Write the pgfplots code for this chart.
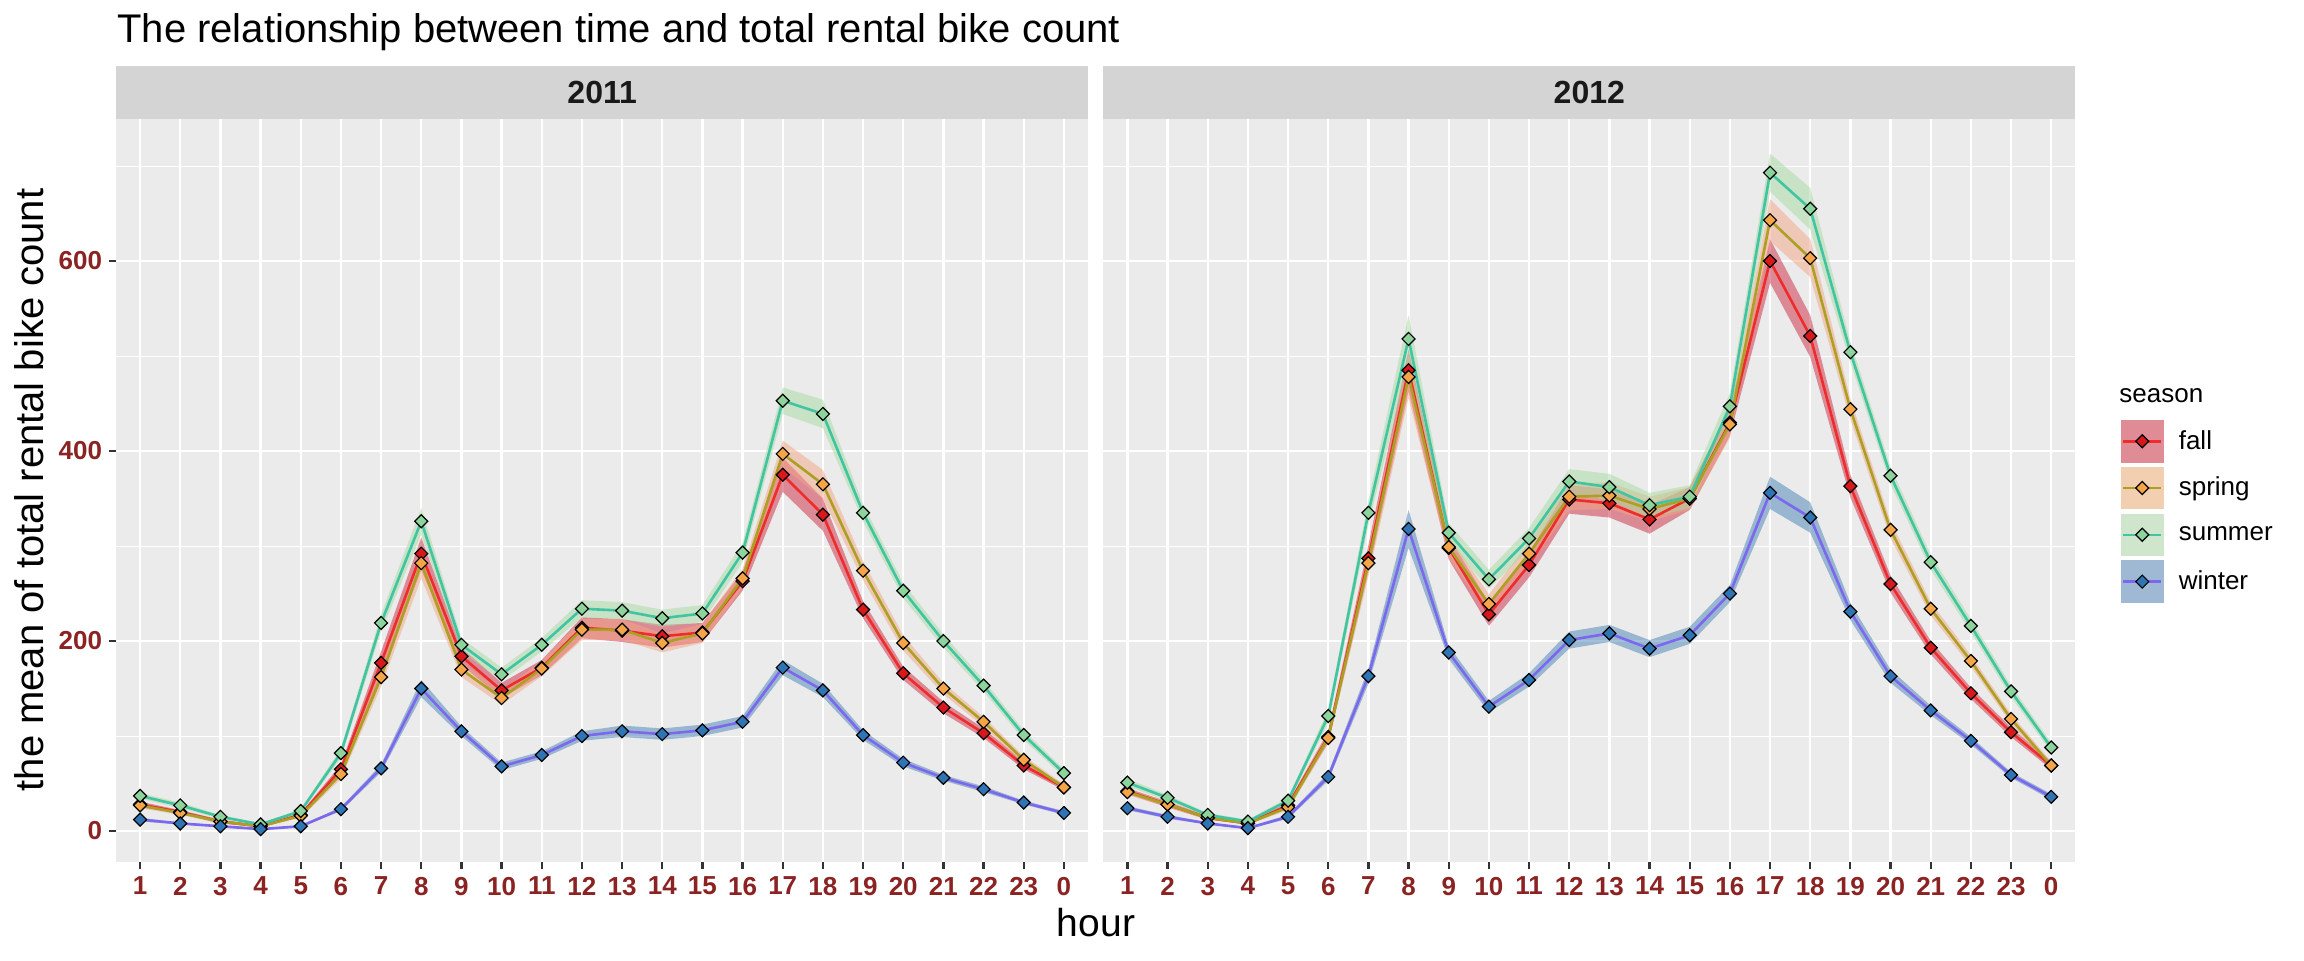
\documentclass[border=0pt]{standalone}
\usepackage{fontspec}
\setmainfont{Liberation Sans}
\usepackage{pgfplots}
\pgfplotsset{compat=1.18}
\usepackage{pgfplotstable}
\usepgfplotslibrary{fillbetween}

\definecolor{panelbg}{HTML}{EBEBEB}
\definecolor{stripbg}{HTML}{D4D4D4}
\definecolor{tickred}{HTML}{8B2323}
\definecolor{fallline}{HTML}{EE2C2C}
\definecolor{springline}{HTML}{ABA024}
\definecolor{summerline}{HTML}{40C4A2}
\definecolor{winterline}{HTML}{7B68EE}
\definecolor{fallpt}{HTML}{D7191C}
\definecolor{springpt}{HTML}{F5A547}
\definecolor{summerpt}{HTML}{8CD49C}
\definecolor{winterpt}{HTML}{2F75B5}
\definecolor{fallrib}{HTML}{CC2A40}
\definecolor{springrib}{HTML}{F4A582}
\definecolor{summerrib}{HTML}{A6DBA0}
\definecolor{winterrib}{HTML}{4682B4}
\definecolor{fallkey}{HTML}{DF8C96}
\definecolor{springkey}{HTML}{F1CFB0}
\definecolor{summerkey}{HTML}{CFE5CC}
\definecolor{winterkey}{HTML}{9FB9D4}

\newcommand{\legfont}{\fontsize{13}{15}\selectfont}

\pgfdeclareplotmark{gdiamond}{%
  \pgfpathmoveto{\pgfqpoint{0pt}{\pgfplotmarksize}}%
  \pgfpathlineto{\pgfqpoint{\pgfplotmarksize}{0pt}}%
  \pgfpathlineto{\pgfqpoint{0pt}{-\pgfplotmarksize}}%
  \pgfpathlineto{\pgfqpoint{-\pgfplotmarksize}{0pt}}%
  \pgfpathclose\pgfusepathqfillstroke}

% 2011
\pgfplotstableread{
x m e
0 37 3
1 27 3
2 15 2
3 7 1
4 21 2
5 82 5
6 219 9
7 326 14
8 196 7
9 165 7
10 196 7
11 234 9
12 232 9
13 224 9
14 229 9
15 293 10
16 453 14
17 439 15
18 335 9
19 253 8
20 200 7
21 153 6
22 101 5
23 61 4
}\tabAsu
\pgfplotstableread{
x m e
0 28 3
1 20 2
2 10 2
3 5 1
4 17 2
5 65 5
6 177 12
7 292 17
8 184 9
9 148 8
10 172 8
11 214 11
12 211 12
13 205 12
14 209 10
15 263 10
16 375 18
17 333 17
18 233 9
19 166 7
20 130 6
21 103 5
22 69 4
23 46 3
}\tabAfa
\pgfplotstableread{
x m e
0 27 3
1 19 2
2 10 2
3 5 1
4 16 2
5 60 5
6 162 10
7 282 16
8 170 8
9 140 7
10 171 8
11 212 11
12 212 11
13 198 10
14 208 10
15 266 10
16 397 14
17 365 15
18 274 10
19 198 8
20 150 6
21 115 5
22 75 4
23 46 3
}\tabAsp
\pgfplotstableread{
x m e
0 12 2
1 8 1
2 5 1
3 2 1
4 5 1
5 23 2
6 66 4
7 150 9
8 105 5
9 68 4
10 80 4
11 100 5
12 105 6
13 102 6
14 106 6
15 115 6
16 172 8
17 148 7
18 101 5
19 72 4
20 56 3
21 44 3
22 30 2
23 19 2
}\tabAwi
% 2012
\pgfplotstableread{
x m e
0 51 4
1 35 3
2 17 2
3 10 2
4 32 3
5 121 7
6 335 13
7 518 25
8 314 10
9 265 10
10 308 11
11 368 13
12 362 14
13 343 13
14 352 12
15 447 14
16 693 20
17 655 22
18 504 11
19 374 9
20 283 8
21 216 7
22 147 6
23 88 5
}\tabBsu
\pgfplotstableread{
x m e
0 42 3
1 28 3
2 14 2
3 8 1
4 27 3
5 99 6
6 287 14
7 485 22
8 298 12
9 228 12
10 280 13
11 349 15
12 345 15
13 328 15
14 350 12
15 430 14
16 600 23
17 521 22
18 363 12
19 260 9
20 193 7
21 145 6
22 104 5
23 69 4
}\tabBfa
\pgfplotstableread{
x m e
0 41 3
1 28 3
2 14 2
3 8 1
4 25 3
5 98 6
6 282 14
7 478 22
8 299 12
9 239 10
10 292 12
11 352 14
12 353 14
13 339 13
14 350 12
15 428 14
16 643 22
17 603 20
18 444 11
19 317 9
20 234 7
21 179 6
22 118 5
23 69 4
}\tabBsp
\pgfplotstableread{
x m e
0 24 2
1 15 2
2 8 1
3 3 1
4 15 2
5 57 4
6 163 8
7 318 20
8 188 7
9 131 6
10 159 7
11 201 9
12 208 9
13 192 9
14 206 9
15 250 9
16 356 17
17 330 16
18 231 9
19 163 7
20 127 5
21 95 4
22 59 3
23 36 3
}\tabBwi

\pgfplotsset{
  panel/.style={
    scale only axis, width=486pt, height=371.5pt,
    xmin=-0.6, xmax=23.6, ymin=-32.6, ymax=749.5,
    axis background/.style={fill=panelbg},
    axis line style={draw=none},
    xtick={0,1,2,3,4,5,6,7,8,9,10,11,12,13,14,15,16,17,18,19,20,21,22,23},
    xticklabels={1,2,3,4,5,6,7,8,9,10,11,12,13,14,15,16,17,18,19,20,21,22,23,0},
    ytick={0,200,400,600}, yticklabels={0,200,400,600},
    minor ytick={100,300,500,700},
    xmajorgrids, ymajorgrids, yminorgrids,
    major grid style={white, line width=1.2pt},
    minor grid style={white, line width=0.5pt},
    tick align=outside, major tick length=3.3pt, minor tick length=0pt,
    xtick pos=lower, ytick pos=left,
    tick style={color=black!80, line width=1.1pt},
    xticklabel style={font=\fontsize{13}{15}\selectfont\bfseries, text=tickred, inner sep=0pt, anchor=north, yshift=-4pt},
    yticklabel style={font=\fontsize{13}{15}\selectfont\bfseries, text=tickred, inner sep=0pt, anchor=east, xshift=-3.5pt},
  },
  rib/.style={fill=#1, fill opacity=0.5, draw=none, forget plot},
  ser/.style 2 args={color=#1, line width=1.3pt, mark=gdiamond, mark size=3.25pt,
     mark options={solid, fill=#2, draw=black, line width=0.6pt}, forget plot},
}

\newcommand{\ribbon}[3]{%
  \addplot[name path=#2hi, draw=none, forget plot] table[x=x, y expr=\thisrow{m}+\thisrow{e}] {#1};
  \addplot[name path=#2lo, draw=none, forget plot] table[x=x, y expr=\thisrow{m}-\thisrow{e}] {#1};
  \addplot[rib=#3] fill between[of=#2hi and #2lo];
}

\begin{document}
\begin{tikzpicture}

\begin{axis}[panel, at={(58pt,49pt)}, anchor=south west]
  \ribbon{\tabAfa}{afa}{fallrib}
  \ribbon{\tabAsp}{asp}{springrib}
  \ribbon{\tabAsu}{asu}{summerrib}
  \ribbon{\tabAwi}{awi}{winterrib}
  \addplot[ser={fallline}{fallpt}] table[x=x, y=m] {\tabAfa};
  \addplot[ser={springline}{springpt}] table[x=x, y=m] {\tabAsp};
  \addplot[ser={summerline}{summerpt}] table[x=x, y=m] {\tabAsu};
  \addplot[ser={winterline}{winterpt}] table[x=x, y=m] {\tabAwi};
\end{axis}

\begin{axis}[panel, at={(551.65pt,49pt)}, anchor=south west,
   ymajorticks=false,
   legend style={at={(1.047,0.5949)}, anchor=north west, draw=none, fill=none,
     inner sep=0pt, outer sep=0pt, row sep=2.15pt, column sep=7.65pt,
     nodes={inner sep=0pt}},
   legend cell align=left]
  \ribbon{\tabBfa}{bfa}{fallrib}
  \ribbon{\tabBsp}{bsp}{springrib}
  \ribbon{\tabBsu}{bsu}{summerrib}
  \ribbon{\tabBwi}{bwi}{winterrib}
  \addplot[ser={fallline}{fallpt}] table[x=x, y=m] {\tabBfa};
  \addplot[ser={springline}{springpt}] table[x=x, y=m] {\tabBsp};
  \addplot[ser={summerline}{summerpt}] table[x=x, y=m] {\tabBsu};
  \addplot[ser={winterline}{winterpt}] table[x=x, y=m] {\tabBwi};
  \addlegendimage{legend image code/.code={
    \fill[fallkey] (0pt,-10.425pt) rectangle (20.85pt,10.425pt);
    \draw[fallline, line width=1.3pt] (1pt,0pt) -- (19.85pt,0pt);
    \filldraw[fill=fallpt, draw=black, line width=0.6pt] (10.425pt,3.25pt) -- (13.675pt,0pt) -- (10.425pt,-3.25pt) -- (7.175pt,0pt) -- cycle;}}
  \addlegendentry{\legfont fall}
  \addlegendimage{legend image code/.code={
    \fill[springkey] (0pt,-10.425pt) rectangle (20.85pt,10.425pt);
    \draw[springline, line width=1.3pt] (1pt,0pt) -- (19.85pt,0pt);
    \filldraw[fill=springpt, draw=black, line width=0.6pt] (10.425pt,3.25pt) -- (13.675pt,0pt) -- (10.425pt,-3.25pt) -- (7.175pt,0pt) -- cycle;}}
  \addlegendentry{\legfont spring}
  \addlegendimage{legend image code/.code={
    \fill[summerkey] (0pt,-10.425pt) rectangle (20.85pt,10.425pt);
    \draw[summerline, line width=1.3pt] (1pt,0pt) -- (19.85pt,0pt);
    \filldraw[fill=summerpt, draw=black, line width=0.6pt] (10.425pt,3.25pt) -- (13.675pt,0pt) -- (10.425pt,-3.25pt) -- (7.175pt,0pt) -- cycle;}}
  \addlegendentry{\legfont summer}
  \addlegendimage{legend image code/.code={
    \fill[winterkey] (0pt,-10.425pt) rectangle (20.85pt,10.425pt);
    \draw[winterline, line width=1.3pt] (1pt,0pt) -- (19.85pt,0pt);
    \filldraw[fill=winterpt, draw=black, line width=0.6pt] (10.425pt,3.25pt) -- (13.675pt,0pt) -- (10.425pt,-3.25pt) -- (7.175pt,0pt) -- cycle;}}
  \addlegendentry{\legfont winter}
\end{axis}

% facet strips
\fill[stripbg] (58pt,420.5pt) rectangle (544.2pt,447pt);
\fill[stripbg] (551.65pt,420.5pt) rectangle (1037.65pt,447pt);
\node[font=\fontsize{16}{18}\selectfont\bfseries, text=black!90, inner sep=0pt] at (301.1pt,433.75pt) {2011};
\node[font=\fontsize{16}{18}\selectfont\bfseries, text=black!90, inner sep=0pt] at (794.65pt,433.75pt) {2012};

% titles
\node[anchor=base west, inner sep=0pt, font=\fontsize{20}{23}\selectfont] at (58.5pt,458.5pt) {The relationship between time and total rental bike count};
\node[anchor=base, inner sep=0pt, rotate=90, font=\fontsize{20}{23}\selectfont] at (21.5pt,235pt) {the mean of total rental bike count};
\node[anchor=base, inner sep=0pt, font=\fontsize{19.5}{22}\selectfont] at (548pt,12pt) {hour};
\node[anchor=base west, inner sep=0pt, font=\fontsize{13}{15}\selectfont] at (1059.5pt,278.5pt) {season};
\path (0,0) rectangle (1152pt,480pt);
\end{tikzpicture}
\end{document}
